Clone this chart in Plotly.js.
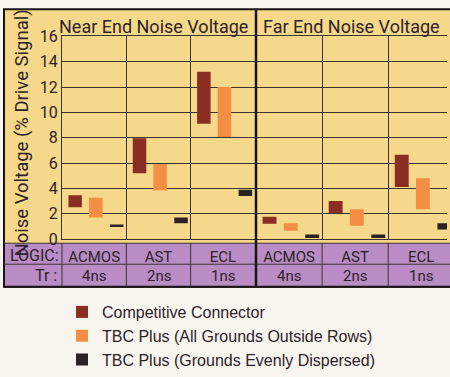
<!DOCTYPE html>
<html><head><meta charset="utf-8">
<script src="https://cdn.plot.ly/plotly-3.0.1.min.js"></script>
<style>html,body{margin:0;padding:0;background:#f8f5ef;} #chart{width:450px;height:377px;}</style>
</head><body><div id="chart"></div>
<script>
// ---- data ----
const logicFamilies = ['ACMOS', 'AST', 'ECL'];
const riseTimes = ['4ns', '2ns', '1ns'];
const seriesNames = ['Competitive Connector', 'TBC Plus (All Grounds Outside Rows)', 'TBC Plus (Grounds Evenly Dispersed)'];
// Near end noise voltage (% drive signal): low / high of each range
const nearCompetitiveLow  = [2.5, 5.2, 9.1];
const nearCompetitiveHigh = [3.45, 7.95, 13.2];
const nearOutsideLow      = [1.7, 3.85, 8.05];
const nearOutsideHigh     = [3.25, 5.9, 12.0];
const nearEvenLow         = [0.95, 1.25, 3.4];
const nearEvenHigh        = [1.15, 1.7, 3.9];
// Far end noise voltage
const farCompetitiveLow   = [1.2, 2.05, 4.1];
const farCompetitiveHigh  = [1.75, 3.0, 6.65];
const farOutsideLow       = [0.65, 1.05, 2.35];
const farOutsideHigh      = [1.25, 2.35, 4.8];
const farEvenLow          = [0.08, 0.08, 0.75];
const farEvenHigh         = [0.35, 0.35, 1.25];

// ---- styling ----
const colors = ['#8a2d22', '#f58e45', '#2b2224'];
const offsets = [-0.40, -0.08, 0.245];
const cond = 'Roboto, Liberation Sans, sans-serif';
const regular = 'Liberation Sans, Arial, sans-serif';
const ink = '#2e2228';
const grid = '#3f312d';
const W = 450, H = 377;
const px = v => v / W;
const py = v => (H - v) / H;

function band(i, low, high, xa, show) {
  return {
    type: 'bar', name: seriesNames[i], x: logicFamilies,
    y: high.map((h, k) => h - low[k]), base: low,
    width: 0.21, offset: offsets[i],
    marker: {color: colors[i], line: {width: 0}},
    xaxis: xa, yaxis: 'y', showlegend: show, legendgroup: 'g' + i,
    hoverinfo: 'skip'
  };
}

const data = [
  band(0, nearCompetitiveLow, nearCompetitiveHigh, 'x', true),
  band(1, nearOutsideLow, nearOutsideHigh, 'x', true),
  band(2, nearEvenLow, nearEvenHigh, 'x', true),
  band(0, farCompetitiveLow, farCompetitiveHigh, 'x2', false),
  band(1, farOutsideLow, farOutsideHigh, 'x2', false),
  band(2, farEvenLow, farEvenHigh, 'x2', false)
];

const xCommon = {
  type: 'category', tickson: 'boundaries', showgrid: true, gridcolor: grid, gridwidth: 1,
  ticks: '', tickangle: 0, ticklabelstandoff: 4,
  tickfont: {family: cond, size: 15, color: ink},
  showline: true, linecolor: grid, linewidth: 1, mirror: true,
  anchor: 'y', fixedrange: true, zeroline: false
};

const tableTop = 260.5, tableMid = 283, tableBot = 307;
const shapes = [
  {type: 'rect', xref: 'paper', yref: 'paper', x0: px(4), x1: px(452), y0: py(10), y1: py(tableBot),
   fillcolor: '#f6d88a', line: {color: '#1a1414', width: 2}, layer: 'below'},
  {type: 'rect', xref: 'paper', yref: 'paper', x0: px(5), x1: px(452), y0: py(tableTop), y1: py(tableBot),
   fillcolor: '#b98cc5', line: {width: 0}, layer: 'below'},
  {type: 'line', xref: 'paper', yref: 'paper', x0: px(4), x1: px(452), y0: py(tableTop), y1: py(tableTop),
   line: {color: grid, width: 1}},
  {type: 'line', xref: 'paper', yref: 'paper', x0: px(4), x1: px(452), y0: py(tableMid), y1: py(tableMid),
   line: {color: grid, width: 1}},
  {type: 'line', xref: 'paper', yref: 'paper', x0: px(4), x1: px(452), y0: py(tableBot), y1: py(tableBot),
   line: {color: '#1a1414', width: 2}},
  {type: 'line', xref: 'x domain', yref: 'paper', x0: 0, x1: 0, y0: py(tableTop), y1: py(tableBot),
   line: {color: grid, width: 1}},
  {type: 'line', xref: 'x', yref: 'paper', x0: 0.5, x1: 0.5, y0: py(tableTop), y1: py(tableBot), line: {color: grid, width: 1}},
  {type: 'line', xref: 'x', yref: 'paper', x0: 1.5, x1: 1.5, y0: py(tableTop), y1: py(tableBot), line: {color: grid, width: 1}},
  {type: 'line', xref: 'x2', yref: 'paper', x0: 0.5, x1: 0.5, y0: py(tableTop), y1: py(tableBot), line: {color: grid, width: 1}},
  {type: 'line', xref: 'x2', yref: 'paper', x0: 1.5, x1: 1.5, y0: py(tableTop), y1: py(tableBot), line: {color: grid, width: 1}},
  {type: 'line', xref: 'x2 domain', yref: 'paper', x0: 0, x1: 0, y0: py(10), y1: py(tableBot),
   line: {color: '#1a1414', width: 2.5}}
];

const annotations = [
  {text: 'Noise Voltage (% Drive Signal)', xref: 'paper', yref: 'paper', x: px(22), y: py(143), textangle: -90,
   showarrow: false, xanchor: 'center', yanchor: 'middle', font: {family: cond, size: 18.5, color: ink}},
  {text: 'Near End Noise Voltage', xref: 'x domain', yref: 'paper', x: 0.475, y: py(28), showarrow: false,
   xanchor: 'center', yanchor: 'middle', font: {family: cond, size: 18, color: ink}},
  {text: 'Far End Noise Voltage', xref: 'x2 domain', yref: 'paper', x: 0.5, y: py(28), showarrow: false,
   xanchor: 'center', yanchor: 'middle', font: {family: cond, size: 18, color: ink}},
  {text: 'LOGIC:', xref: 'paper', yref: 'paper', x: px(34), y: py(273.5), showarrow: false,
   xanchor: 'center', yanchor: 'middle', font: {family: cond, size: 16, color: ink}},
  {text: 'Tr :', xref: 'paper', yref: 'paper', x: px(59), y: py(295.5), showarrow: false,
   xanchor: 'right', yanchor: 'middle', font: {family: cond, size: 16, color: ink}}
];
// rise-time row of the table, placed on each panel's category axis
riseTimes.forEach((t, i) => {
  ['x', 'x2'].forEach(xr => annotations.push({
    text: t, xref: xr, yref: 'paper', x: logicFamilies[i], y: py(295.5), showarrow: false,
    xanchor: 'center', yanchor: 'middle', font: {family: cond, size: 15, color: ink}
  }));
});

const layout = {
  width: W, height: H, autosize: false,
  margin: {l: 0, r: 0, t: 0, b: 0},
  paper_bgcolor: '#f8f5ef', plot_bgcolor: '#d8b4a4',
  barmode: 'overlay', showlegend: true,
  xaxis: Object.assign({}, xCommon, {domain: [px(62), px(255)], range: [-0.5, 2.5]}),
  xaxis2: Object.assign({}, xCommon, {domain: [px(256), px(447)], range: [-0.5, 2.39]}),
  yaxis: {
    domain: [py(256), py(39)], range: [0, 16], dtick: 2, showgrid: true, gridcolor: grid, gridwidth: 1,
    ticks: '', tickfont: {family: cond, size: 16, color: ink}, zeroline: false,
    showline: true, linecolor: grid, linewidth: 1, fixedrange: true
  },
  legend: {
    x: px(62), y: py(316), xanchor: 'left', yanchor: 'top', orientation: 'v',
    bgcolor: 'rgba(0,0,0,0)', borderwidth: 0, tracegroupgap: 0,
    font: {family: regular, size: 16, color: ink}
  },
  shapes: shapes,
  annotations: annotations
};

Plotly.newPlot('chart', data, layout, {displayModeBar: false, staticPlot: true});
</script>
</body></html>
